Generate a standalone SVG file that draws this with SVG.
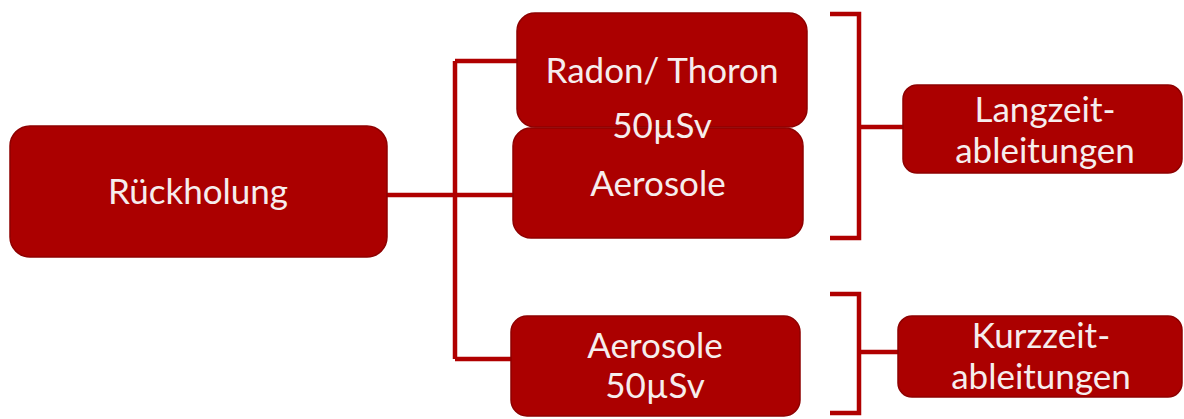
<svg xmlns="http://www.w3.org/2000/svg" width="1184" height="419" viewBox="0 0 1184 419">
<style>
.box{fill:#ab0000;stroke:#8e0000;stroke-width:1.5}
.t{font-family:Lato,"Open Sans",sans-serif;font-size:35px;fill:#f6eded;text-anchor:middle}
.ln{fill:none;stroke:#b00000;stroke-width:4.5}
</style>
<g id="connectors">
<path class="ln" d="M387 195 H513 M455 61 V359 M455 61 H518 M455 359 H512"/>
<path class="ln" d="M830 14 H859 V238 H830 M859 127 H903"/>
<path class="ln" d="M830 294 H859 V413 H830 M859 352 H898"/>
</g>
<g id="rueckholung">
<rect class="box" x="10" y="126" width="377" height="131" rx="20"/>
<text class="t" x="198" y="204">Rückholung</text>
</g>
<g id="aerosole1">
<rect class="box" x="513" y="128" width="290" height="110" rx="18"/>
<text class="t" x="658" y="196">Aerosole</text>
</g>
<g id="radon">
<rect class="box" x="517" y="13" width="290" height="114" rx="18"/>
<text class="t" x="662" y="83">Radon/ Thoron</text>
<text class="t" x="662" y="138">50µSv</text>
</g>
<g id="aerosole2">
<rect class="box" x="511" y="316" width="289" height="100" rx="16"/>
<text class="t" x="655" y="358">Aerosole</text>
<text class="t" x="655" y="398">50µSv</text>
</g>
<g id="langzeit">
<rect class="box" x="903" y="85" width="279" height="88" rx="14"/>
<text class="t" x="1045" y="122">Langzeit-</text>
<text class="t" x="1045" y="163">ableitungen</text>
</g>
<g id="kurzzeit">
<rect class="box" x="898" y="316" width="284" height="81" rx="14"/>
<text class="t" x="1041" y="348">Kurzzeit-</text>
<text class="t" x="1041" y="389">ableitungen</text>
</g>
</svg>
